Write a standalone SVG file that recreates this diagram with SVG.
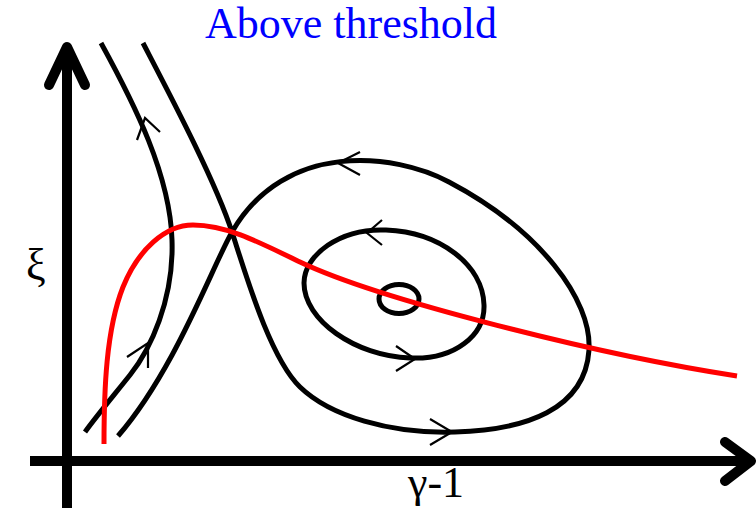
<svg xmlns="http://www.w3.org/2000/svg" width="756" height="508" viewBox="0 0 756 508">
<style>
.axis{fill:none;stroke:#000;stroke-width:10}
.head{fill:none;stroke:#000;stroke-width:10;stroke-linecap:round;stroke-linejoin:round}
.traj{fill:none;stroke:#000;stroke-width:5}
.chev{fill:none;stroke:#000;stroke-width:2.2}
.red{fill:none;stroke:#ff0000;stroke-width:5}
.lbl{font-family:"Liberation Serif","Times New Roman",serif;font-size:44px;fill:#000}
.title{font-family:"Liberation Serif","Times New Roman",serif;font-size:44px;fill:#0000ff}
</style>
<rect width="756" height="508" fill="#fff"/>
<g id="axes">
<line class="axis" x1="67" y1="508" x2="67" y2="50"/>
<polyline class="head" points="49,85 67,47 85,85"/>
<line class="axis" x1="30" y1="461" x2="748" y2="461"/>
<polyline class="head" points="725,442 751,461 725,481"/>
</g>
<g id="connectors">
<path id="trajA" class="traj" d="M101,43 C135,105 170,175 172,240 C174,300 150,350 130,375 C110,400 95,418 85,432"/>
<path id="separatrix" class="traj" d="M143,43 C170,95 215,180 232,232 C246,275 270,358 300,387 C330,416 390,434 455,432 C525,430 585,410 589,350 C592,300 540,230 449,182 C395,153 285,140 232,232 C212,267 175,370 118,436"/>
<path id="orbit" class="traj" d="M386,230 C340,228 304,255 304,283 C304,320 355,356 410,358 C455,360 485,335 484,305 C483,265 440,232 386,230 Z"/>
<ellipse id="center" class="traj" cx="399" cy="299" rx="20" ry="14.5"/>
<path id="nullcline" class="red" d="M104,444 C104,390 106,330 123,287 C138,250 165,225 193,225 C225,225 255,240 300,262 C380,300 600,355 737,376"/>
<polyline class="chev" points="137,140 145,118 160,132"/>
<polyline class="chev" points="127,357 148,343 148,368"/>
<polyline class="chev" points="360,152 338,163 360,175"/>
<polyline class="chev" points="430,419 452,432 430,445"/>
<polyline class="chev" points="382,220 367,233 382,245"/>
<polyline class="chev" points="396,346 415,359 396,371"/>
</g>
<g id="labels">
<text class="title" x="205" y="38">Above threshold</text>
<text class="lbl" x="26" y="279">ξ</text>
<text class="lbl" x="408" y="497">γ-1</text>
</g>
</svg>
